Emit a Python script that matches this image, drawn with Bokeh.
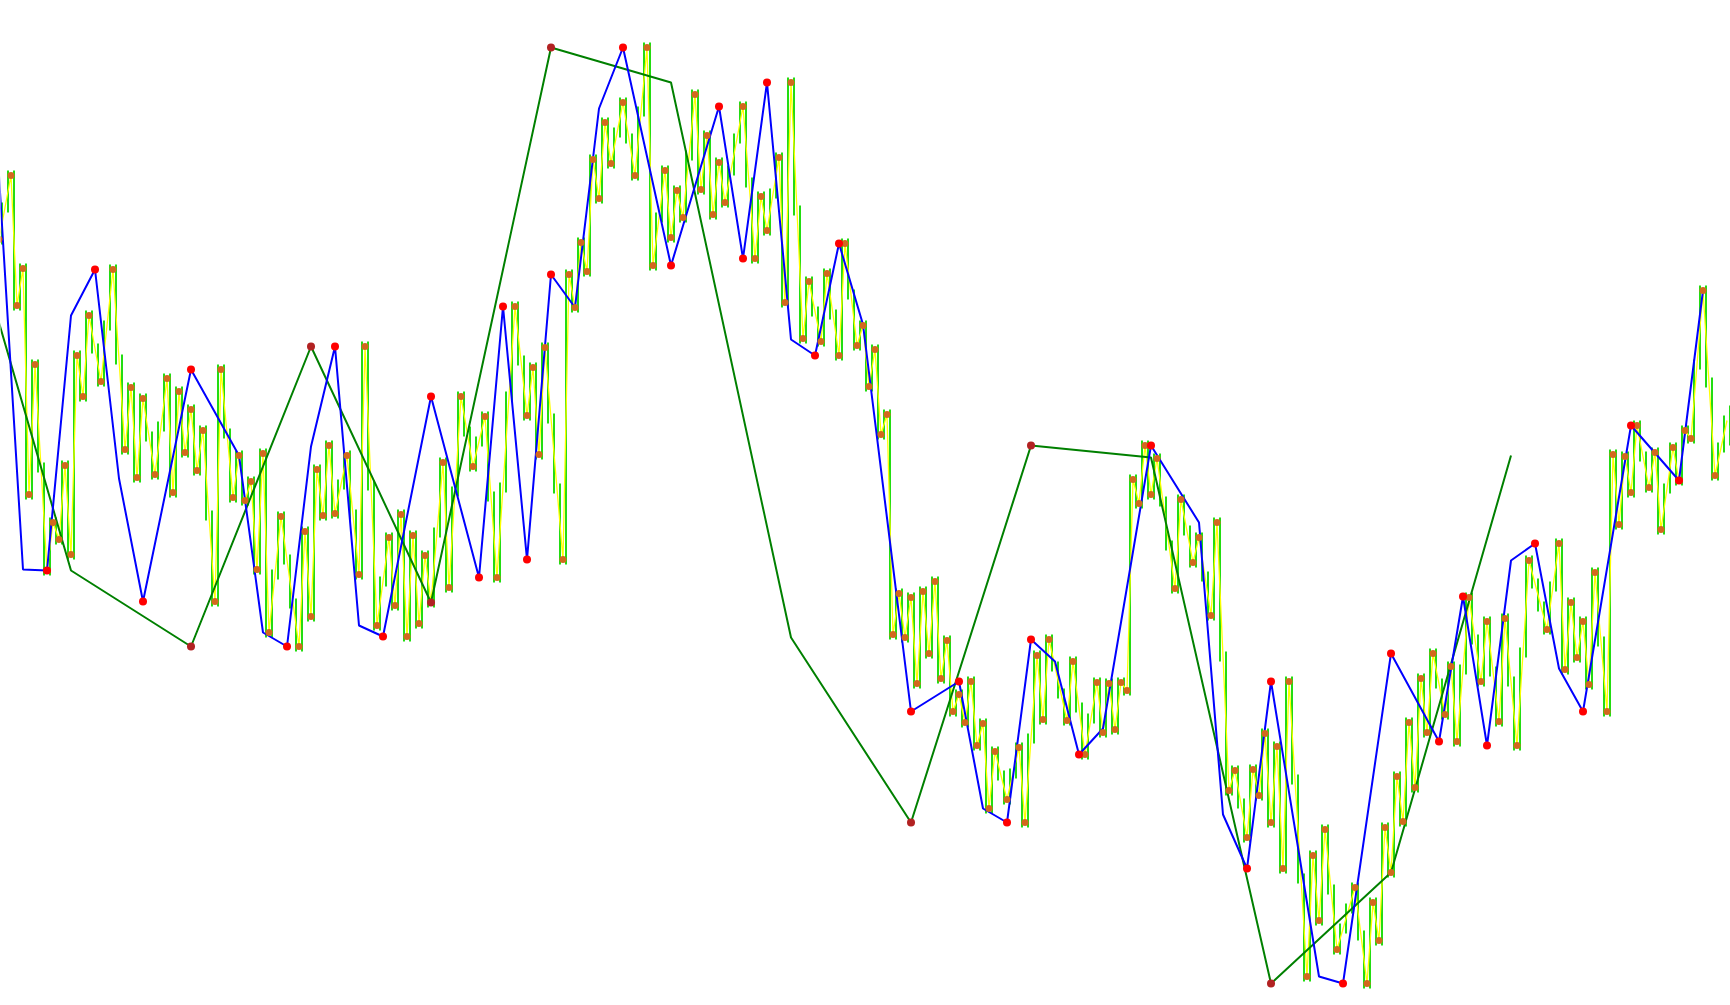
from bokeh.plotting import figure
from bokeh.models import Range1d
from bokeh.embed import file_html
from bokeh.resources import INLINE

# ---- data: bar index (t) and price level (v) ----
pivot_t = [-1, 1, 2, 3, 4, 5, 7, 8, 9, 10,
           11, 12, 13, 14, 16, 18, 20, 21, 22, 23,
           25, 27, 28, 29, 30, 31, 32, 33, 35, 36,
           38, 39, 40, 41, 42, 43, 44, 46, 49, 50,
           51, 52, 53, 54, 55, 57, 59, 60, 62, 64,
           65, 66, 67, 68, 69, 70, 71, 73, 74, 76,
           78, 80, 82, 85, 87, 88, 89, 90, 93, 94,
           95, 96, 97, 98, 99, 100, 101, 103, 105, 107,
           108, 110, 111, 112, 113, 115, 116, 117, 118, 119,
           120, 123, 125, 126, 127, 129, 130, 131, 133, 134,
           136, 137, 139, 140, 142, 143, 144, 145, 146, 147,
           148, 149, 150, 151, 152, 153, 154, 155, 156, 157,
           158, 159, 160, 161, 162, 163, 164, 165, 167, 169,
           170, 172, 173, 174, 177, 178, 180, 182, 183, 184,
           185, 186, 187, 188, 189, 190, 191, 192, 195, 196,
           198, 199, 201, 202, 204, 205, 207, 208, 209, 210,
           211, 212, 213, 214, 217, 218, 219, 220, 222, 225,
           227, 228, 229, 230, 231, 232, 233, 234, 235, 236,
           237, 238, 240, 241, 242, 244, 246, 247, 249, 250,
           252, 254, 257, 259, 260, 261, 262, 263, 264, 265,
           267, 268, 269, 270, 271, 272, 274, 275, 276, 278,
           279, 280, 281, 283, 285]
pivot_v = [766, 830, 700, 737, 511, 641, 435, 483, 466, 540,
           451, 650, 609, 690, 624, 736, 556, 618, 528, 607,
           531, 627, 513, 614, 553, 596, 535, 575, 404, 636,
           508, 550, 505, 524, 436, 552, 373, 489, 359, 474,
           389, 536, 490, 560, 492, 550, 431, 659, 380, 468,
           400, 491, 369, 470, 382, 450, 403, 543, 418, 609,
           539, 589, 428, 699, 590, 638, 551, 658, 446, 731,
           698, 763, 734, 846, 807, 883, 842, 903, 830, 958,
           740, 835, 768, 815, 788, 911, 816, 870, 791, 843,
           803, 899, 747, 809, 775, 848, 703, 923, 667, 724,
           664, 732, 650, 762, 660, 680, 619, 656, 571, 591,
           371, 412, 368, 408, 322, 414, 352, 424, 327, 365,
           294, 311, 283, 324, 260, 282, 197, 254, 206, 258,
           183, 350, 286, 366, 285, 344, 251, 323, 273, 322,
           276, 323, 315, 526, 502, 560, 511, 547, 417, 506,
           443, 468, 390, 483, 215, 235, 168, 236, 210, 272,
           183, 259, 137, 324, 29, 150, 85, 176, 56, 118,
           22, 103, 65, 178, 133, 229, 184, 283, 218, 327,
           273, 352, 291, 339, 264, 408, 324, 384, 284, 387,
           260, 445, 376, 462, 336, 403, 348, 384, 321, 433,
           294, 551, 481, 549, 513, 580, 518, 553, 476, 558,
           525, 575, 567, 715, 530]
last_t = 287
last_v = 585

# high/low bars, one between each pair of neighbouring bar slots
bar_t = [t + 0.5 for t in range(-1, 288)]
bar_lo = [761, 793, 695, 695, 506, 506, 533, 430, 430, 461, 461,
          446, 446, 604, 604, 652, 619, 619, 675, 641, 551,
          551, 523, 523, 564, 526, 526, 574, 508, 508, 548,
          548, 530, 530, 485, 399, 399, 567, 503, 503, 500,
          500, 431, 431, 368, 368, 426, 441, 397, 354, 354,
          384, 384, 485, 485, 487, 487, 516, 486, 426, 426,
          515, 375, 375, 419, 395, 395, 364, 364, 377, 377,
          398, 398, 468, 413, 413, 509, 569, 534, 534, 559,
          504, 423, 423, 513, 604, 640, 585, 585, 546, 546,
          582, 512, 441, 441, 693, 693, 729, 729, 802, 802,
          837, 837, 868, 862, 825, 825, 889, 735, 735, 783,
          763, 763, 783, 783, 845, 811, 811, 786, 786, 798,
          798, 830, 862, 818, 742, 742, 770, 770, 807, 698,
          698, 790, 662, 662, 689, 659, 659, 686, 645, 645,
          706, 655, 655, 614, 614, 566, 566, 366, 366, 363,
          363, 317, 317, 347, 347, 322, 322, 289, 289, 278,
          278, 255, 255, 192, 192, 225, 201, 201, 227, 178,
          178, 262, 281, 281, 334, 307, 280, 280, 293, 246,
          246, 282, 268, 268, 271, 271, 310, 310, 497, 497,
          506, 506, 499, 455, 412, 412, 470, 438, 438, 424,
          385, 385, 344, 210, 210, 197, 163, 163, 205, 205,
          178, 178, 132, 132, 221, 122, 24, 24, 80, 80,
          111, 51, 51, 72, 92, 65, 17, 17, 60, 60,
          128, 128, 179, 179, 213, 213, 268, 268, 317, 286,
          286, 259, 259, 331, 361, 319, 319, 329, 279, 279,
          319, 255, 255, 348, 417, 394, 371, 371, 414, 331,
          331, 343, 343, 316, 316, 359, 289, 289, 476, 476,
          508, 508, 544, 513, 513, 471, 471, 512, 520, 520,
          562, 562, 636, 618, 525, 525, 553, 560]
bar_hi = [803, 835, 835, 742, 742, 646, 646, 543, 488, 488, 545,
          545, 655, 655, 695, 695, 662, 685, 741, 741, 651,
          623, 623, 612, 612, 574, 584, 632, 632, 619, 619,
          601, 601, 580, 580, 495, 641, 641, 577, 555, 555,
          529, 529, 557, 557, 436, 494, 494, 451, 407, 479,
          479, 541, 541, 565, 565, 526, 555, 555, 496, 664,
          664, 525, 429, 473, 473, 496, 496, 475, 475, 455,
          455, 478, 548, 548, 519, 614, 614, 579, 569, 594,
          594, 514, 523, 614, 704, 704, 650, 643, 643, 663,
          663, 592, 522, 736, 736, 768, 768, 851, 851, 888,
          888, 878, 908, 908, 872, 899, 963, 963, 793, 840,
          840, 820, 820, 855, 916, 916, 875, 875, 848, 848,
          840, 872, 904, 904, 828, 814, 814, 817, 853, 853,
          928, 928, 800, 729, 729, 699, 737, 737, 696, 767,
          767, 716, 685, 685, 661, 661, 596, 596, 417, 417,
          413, 413, 419, 419, 429, 429, 370, 370, 316, 316,
          329, 329, 287, 287, 259, 259, 235, 237, 263, 263,
          272, 355, 355, 371, 371, 344, 317, 349, 349, 303,
          292, 328, 328, 327, 327, 328, 328, 531, 531, 565,
          565, 552, 552, 509, 465, 511, 511, 480, 473, 473,
          434, 488, 488, 354, 240, 240, 207, 241, 241, 277,
          277, 264, 264, 329, 329, 231, 132, 155, 155, 181,
          181, 121, 82, 102, 123, 123, 75, 108, 108, 183,
          183, 234, 234, 288, 288, 332, 332, 357, 357, 327,
          344, 344, 341, 413, 413, 371, 389, 389, 339, 392,
          392, 329, 358, 450, 450, 427, 404, 424, 467, 467,
          408, 408, 389, 389, 438, 438, 369, 556, 556, 554,
          554, 585, 585, 554, 558, 558, 522, 563, 563, 580,
          580, 646, 720, 720, 628, 563, 590, 600]

blue_t = [-1, 3, 7, 11, 15, 19, 23, 31, 39, 43,
          47, 51, 55, 59, 63, 71, 79, 83, 87, 91,
          95, 99, 103, 111, 119, 123, 127, 131, 135, 139,
          143, 151, 159, 163, 167, 171, 175, 179, 183, 191,
          199, 203, 207, 211, 219, 223, 231, 239, 243, 247,
          251, 255, 259, 263, 271, 279, 283]
blue_v = [830, 436, 435, 690, 736, 527, 404, 636, 550, 373,
          359, 559, 659, 380, 369, 609, 428, 699, 446, 731,
          698, 897, 958, 740, 899, 747, 923, 666, 650, 762,
          681, 294, 324, 197, 183, 366, 344, 251, 277, 560,
          483, 191, 137, 324, 29, 22, 352, 264, 409, 260,
          445, 462, 337, 294, 580, 525, 715]
blue_confirmed = [0, 0, 1, 0, 1, 0, 1, 1, 0, 0,
                  1, 0, 1, 0, 1, 1, 1, 1, 1, 1,
                  0, 0, 1, 1, 1, 1, 1, 0, 1, 1,
                  0, 1, 1, 0, 1, 1, 0, 1, 0, 1,
                  0, 0, 1, 1, 0, 1, 1, 1, 1, 1,
                  0, 1, 0, 1, 1, 1, 0]

green_t = [-9, 11, 31, 51, 71, 91, 111, 131, 151, 171, 191, 211, 231, 251]
green_v = [848, 435, 359, 659, 403, 958, 923, 368, 183, 560, 548, 22, 133, 550]
green_confirmed = [0, 0, 1, 1, 1, 1, 0, 0, 1, 1, 0, 1, 0, 0]

# ---- derived ----
line_t = pivot_t + [last_t]
line_v = pivot_v + [last_v]
red_t = [t for t, c in zip(blue_t, blue_confirmed) if c]
red_v = [v for v, c in zip(blue_v, blue_confirmed) if c]
dred_t = [t for t, c in zip(green_t, green_confirmed) if c]
dred_v = [v for v, c in zip(green_v, green_confirmed) if c]

p = figure(width=1730, height=1005, output_backend="svg", toolbar_location=None,
           x_range=Range1d(-0.75, 287.583), y_range=Range1d(0, 1005),
           x_axis_location=None, y_axis_location=None, min_border=0)
p.grid.visible = False
p.outline_line_color = None
p.background_fill_color = "white"
p.border_fill_color = "white"

p.segment(x0=bar_t, y0=bar_lo, x1=bar_t, y1=bar_hi, line_color="#22dd11", line_width=2)
p.line(line_t, line_v, line_color="#ffff00", line_width=1.3)
p.line(green_t, green_v, line_color="#008000", line_width=2)
p.line(blue_t, blue_v, line_color="#0000ff", line_width=2)
p.scatter(pivot_t, pivot_v, size=7, fill_color="#d2691e", line_color=None)
p.scatter(red_t, red_v, size=8, fill_color="#ff0000", line_color=None)
p.scatter(dred_t, dred_v, size=8, fill_color="#b22222", line_color=None)

open("out.html", "w").write(file_html(p, INLINE))
